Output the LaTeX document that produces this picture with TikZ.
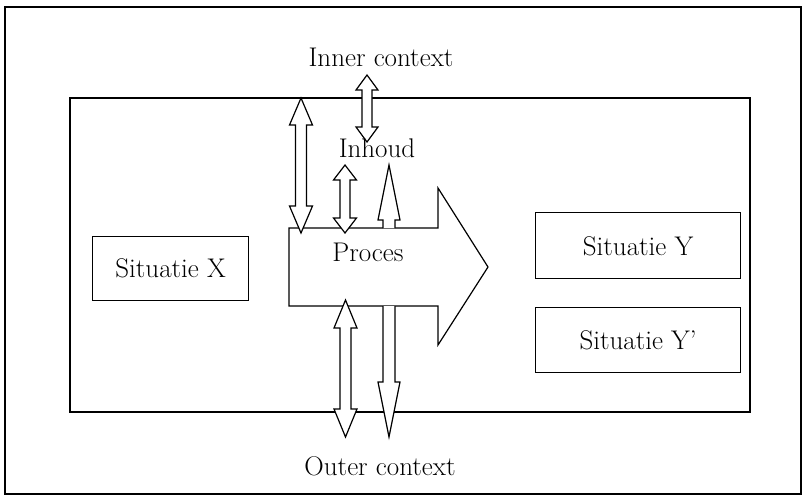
\documentclass[tikz,border=0pt]{standalone}
\tikzset{
  frame/.style={draw, line width=1.6pt},
  boxline/.style={draw, line width=1.2pt},
  blockarr/.style={draw, fill=white, line width=1.2pt, line join=miter},
  lbl/.style={font=\fontsize{27}{31}\selectfont, inner sep=0pt}
}
\newcommand\mydblarr[6]{% x, ytop, ybot, half shaft, half head, head length
  \draw[blockarr] (#1,#2) -- (#1+#5,#2+#6) -- (#1+#4,#2+#6) -- (#1+#4,#3-#6) -- (#1+#5,#3-#6) -- (#1,#3)
    -- (#1-#5,#3-#6) -- (#1-#4,#3-#6) -- (#1-#4,#2+#6) -- (#1-#5,#2+#6) -- cycle;}
\begin{document}
\begin{tikzpicture}[x=1pt,y=-1pt]
\useasboundingbox (0,0) rectangle (806,499);
\draw[frame] (5,7) rectangle (801,494);
\draw[boxline] (70,98) rectangle (750,412);
\node[boxline, minimum width=156pt, minimum height=64pt, anchor=north west] (sx) at (92,236) {};
\node[lbl] at (sx.center) {Situatie X};
\node[boxline, minimum width=205pt, minimum height=66pt, anchor=north west] (sy) at (535,212) {};
\node[lbl] at ([yshift=-1pt]sy.center) {Situatie Y};
\node[boxline, minimum width=205pt, minimum height=65pt, anchor=north west] (sy2) at (535,307) {};
\node[lbl] at (sy2.center) {Situatie Y’};
% process arrow
\draw[blockarr] (289,228) -- (438,228) -- (438,188) -- (488,267) -- (438,345) -- (438,306) -- (289,306) -- cycle;
\node[lbl] (proc) at (368,252) {Proces};
% double arrows
\mydblarr{301}{98}{233}{5.5}{11.5}{27}
\mydblarr{367}{75}{142}{5}{11}{15}
\mydblarr{345}{165}{233}{5}{11.5}{15}
\mydblarr{345.5}{300}{437}{5.5}{11.5}{28}
% single arrows
\draw[blockarr] (383,228) -- (383,220) -- (378,220) -- (389,165) -- (400,220) -- (395,220) -- (395,228);
\draw[blockarr] (383,306) -- (383,382) -- (378,382) -- (389,437) -- (400,382) -- (395,382) -- (395,306);
% labels
\node[lbl] (inner) at (381,57) {Inner context};
\node[lbl] (inhoud) at (377,148) {Inhoud};
\node[lbl] (outer) at (380,466) {Outer context};
\end{tikzpicture}
\end{document}
